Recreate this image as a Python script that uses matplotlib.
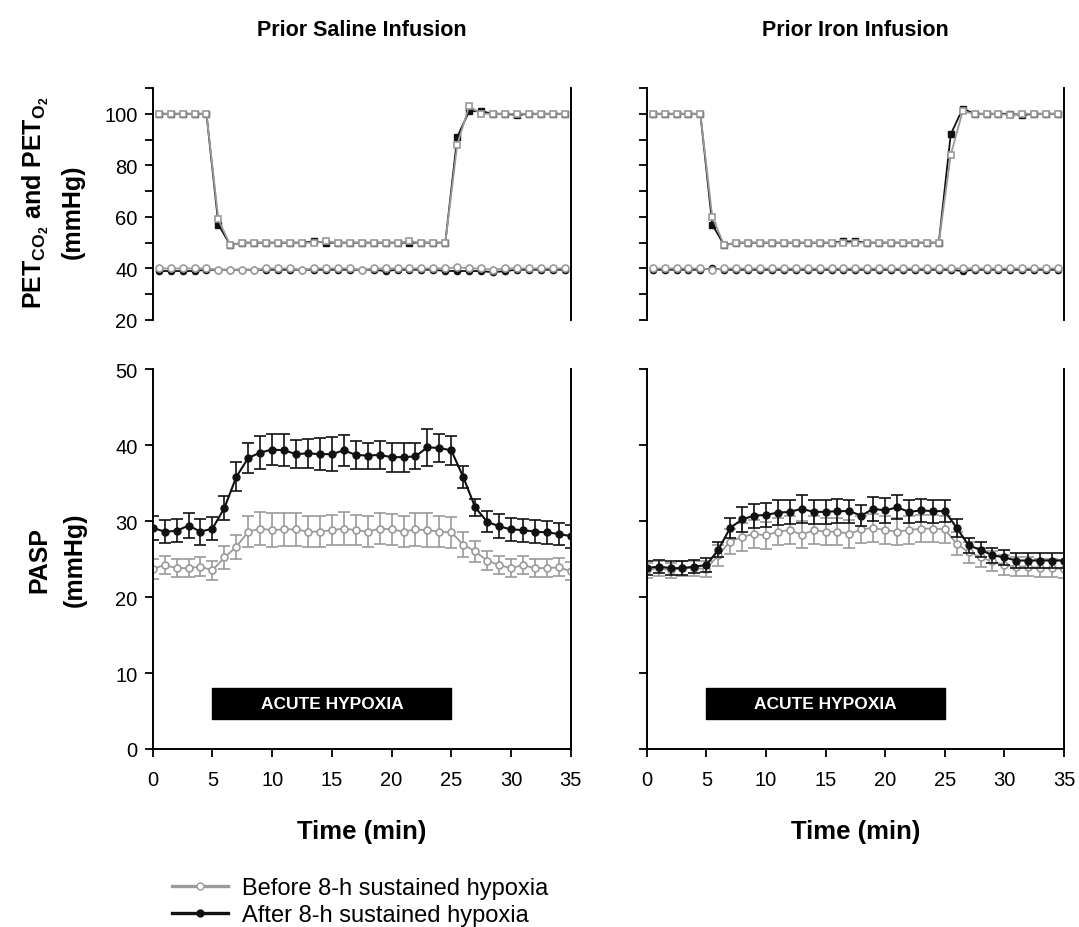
import numpy as np
import matplotlib
matplotlib.use("Agg")
import matplotlib.pyplot as plt
from matplotlib.lines import Line2D

plt.rcParams['font.family'] = ['Liberation Sans', 'DejaVu Sans']
plt.rcParams['mathtext.fontset'] = 'custom'
plt.rcParams['mathtext.bf'] = 'Liberation Sans:bold'
plt.rcParams['mathtext.rm'] = 'Liberation Sans'

# ---- data ----
panel_titles = ["Prior Saline Infusion", "Prior Iron Infusion"]

# end-tidal gases, one value per minute bin (plotted at bin centres)
t_gas = np.arange(35) + 0.5

saline_o2_before = [100, 100, 100, 100, 100, 59, 49, 50, 50, 50, 50, 50, 50, 50, 50.5, 50, 50,
                    50, 50, 50, 50, 50.5, 50, 50, 50, 88, 103, 100, 100, 100, 100, 100, 100, 100, 100]
saline_o2_after = [100, 100, 100, 100, 100, 57, 49, 50, 50, 50, 50, 50, 50, 50.5, 50, 50, 50,
                   50, 50, 50, 50, 50, 50, 50, 50, 91, 101, 101, 100, 100, 99.5, 100, 100, 100, 100]
saline_co2_before = [40, 40, 40, 40, 40, 39.5, 39.5, 39.5, 39.5, 40, 40, 40, 39.5, 40, 40, 40, 40,
                     39.5, 40, 40, 40, 40, 40, 40, 40, 40.5, 40, 40, 39.5, 40, 40, 40, 40, 40, 40]
saline_co2_after = [39, 39, 39, 39, 39.5, 39.5, 39.5, 39.5, 39.5, 39.5, 39.5, 39.5, 39.5, 39.5, 39.5,
                    39.5, 39.5, 39.5, 39.5, 39, 39.5, 39.5, 39.5, 39.5, 39, 39, 39, 39, 38.5, 39, 39.5,
                    39.5, 39.5, 39.5, 39.5]

iron_o2_before = [100, 100, 100, 100, 100, 60, 49, 50, 50, 50, 50, 50, 50, 50, 50, 50, 50,
                  50, 50, 50, 50, 50, 50, 50, 50, 84, 101, 100, 100, 100, 99.5, 100, 100, 100, 100]
iron_o2_after = [100, 100, 100, 100, 100, 57, 49, 50, 50, 50, 50, 50, 50, 50, 50, 50, 50.5,
                 50.5, 50, 50, 50, 50, 50, 50, 50, 92, 102, 100, 100, 100, 100, 99.5, 100, 100, 100]
iron_co2_before = [40, 40, 40, 40, 40, 39.5, 40, 40, 40, 40, 40, 40, 40, 40, 40, 40, 40,
                   40, 40, 40, 40, 40, 40, 40, 40, 40, 40, 40, 40, 40, 40, 40, 40, 40, 40]
iron_co2_after = [39.5, 39.5, 39.5, 39.5, 39.5, 40, 39.5, 39.5, 39.5, 39.5, 39.5, 39.5, 39.5, 39.5, 39.5,
                  39.5, 39.5, 39.5, 39.5, 39.5, 39.5, 39.5, 39.5, 39.5, 39.5, 39.5, 39, 39.5, 39.5, 39.5,
                  39.5, 39.5, 39.5, 39.5, 39.5]

# pulmonary artery systolic pressure, every minute
t_pasp = np.arange(36)

saline_pasp_before = [23.7, 24.2, 23.8, 23.8, 24.0, 23.5, 25.2, 26.6, 28.6, 29.0, 28.8, 28.9,
                      28.9, 28.6, 28.6, 28.8, 29.0, 28.8, 28.6, 29.0, 28.9, 28.6, 28.9, 28.8,
                      28.6, 28.5, 26.9, 26.0, 24.8, 24.2, 23.8, 24.2, 23.8, 23.8, 23.9, 23.4]
saline_pasp_before_err = [1.3, 1.2, 1.2, 1.2, 1.3, 1.3, 1.5, 1.6, 2.0, 2.2, 2.2, 2.2,
                          2.2, 2.0, 2.0, 2.0, 2.2, 2.0, 2.0, 2.0, 2.0, 2.0, 2.2, 2.2,
                          2.0, 2.0, 1.6, 1.4, 1.3, 1.2, 1.2, 1.2, 1.2, 1.2, 1.2, 1.2]
saline_pasp_after = [29.1, 28.6, 28.7, 29.4, 28.6, 29.0, 31.7, 35.8, 38.3, 39.0, 39.4, 39.3,
                     38.8, 38.9, 38.8, 38.8, 39.3, 38.7, 38.6, 38.7, 38.4, 38.4, 38.5, 39.7,
                     39.6, 39.3, 35.8, 31.8, 29.9, 29.3, 28.9, 28.8, 28.6, 28.5, 28.3, 28.0]
saline_pasp_after_err = [1.6, 1.5, 1.5, 1.6, 1.7, 1.5, 1.6, 1.9, 2.0, 2.2, 2.0, 2.1,
                         1.8, 1.9, 2.1, 2.2, 2.0, 1.8, 1.7, 1.8, 1.9, 1.9, 1.7, 2.4,
                         1.8, 1.9, 1.4, 1.1, 1.4, 1.6, 1.5, 1.5, 1.5, 1.5, 1.5, 1.5]

iron_pasp_before = [23.5, 23.8, 23.5, 23.8, 23.8, 23.7, 25.5, 27.3, 27.9, 28.3, 28.1, 28.6,
                    28.8, 28.2, 28.8, 28.6, 28.6, 28.3, 28.9, 29.1, 28.8, 28.6, 28.8, 29.0,
                    29.0, 28.9, 27.0, 25.9, 25.2, 24.7, 24.2, 24.0, 24.0, 23.8, 23.8, 23.7]
iron_pasp_before_err = [1.0, 1.0, 1.0, 1.0, 1.0, 1.1, 1.4, 1.7, 1.8, 1.8, 1.8, 1.8,
                        1.8, 1.8, 1.8, 1.8, 1.8, 1.8, 1.8, 1.8, 1.8, 1.8, 1.8, 1.8,
                        1.8, 1.8, 1.5, 1.4, 1.3, 1.3, 1.3, 1.3, 1.3, 1.2, 1.2, 1.2]
iron_pasp_after = [23.8, 24.0, 23.8, 23.8, 24.0, 24.2, 26.2, 29.1, 30.2, 30.7, 30.8, 31.1,
                   31.2, 31.6, 31.2, 31.2, 31.3, 31.3, 30.7, 31.6, 31.4, 31.8, 31.2, 31.4,
                   31.3, 31.3, 29.1, 26.8, 26.2, 25.5, 25.2, 24.8, 24.8, 24.8, 24.8, 24.8]
iron_pasp_after_err = [0.9, 0.9, 0.9, 0.9, 0.9, 0.9, 1.0, 1.3, 1.6, 1.6, 1.6, 1.6,
                       1.6, 1.8, 1.6, 1.6, 1.6, 1.5, 1.4, 1.6, 1.6, 1.6, 1.5, 1.5,
                       1.5, 1.4, 1.2, 1.0, 1.0, 1.0, 1.0, 1.0, 1.0, 1.0, 1.0, 1.0]

hypoxia_start, hypoxia_end = 5, 25
legend_labels = ["Before 8-h sustained hypoxia", "After 8-h sustained hypoxia"]

GREY = "#9a9a9a"
BLACK = "#111111"

W, H = 1079, 928
fig = plt.figure(figsize=(W / 100, H / 100), dpi=100)


def px_axes(x0, x1, y0, y1):
    return fig.add_axes([x0 / W, 1 - y1 / H, (x1 - x0) / W, (y1 - y0) / H])


def px_text(x, y, s, **kw):
    fig.text(x / W, 1 - y / H, s, **kw)


def style(ax):
    ax.spines['top'].set_visible(False)
    for side in ('left', 'right', 'bottom'):
        ax.spines[side].set_linewidth(1.4)
    ax.tick_params(direction='out', length=6, width=1.3, labelsize=14.5, pad=5)


cols = [(152.7, 570.7), (646.7, 1064.0)]
gas = [
    (saline_o2_before, saline_o2_after, saline_co2_before, saline_co2_after),
    (iron_o2_before, iron_o2_after, iron_co2_before, iron_co2_after),
]
pasp = [
    (saline_pasp_before, saline_pasp_before_err, saline_pasp_after, saline_pasp_after_err),
    (iron_pasp_before, iron_pasp_before_err, iron_pasp_after, iron_pasp_after_err),
]

for i, (x0, x1) in enumerate(cols):
    # top: end-tidal gases
    ax = px_axes(x0, x1, 89, 321)
    style(ax)
    ax.spines['bottom'].set_visible(False)
    o2b, o2a, co2b, co2a = gas[i]
    ax.plot(t_gas, co2a, color=BLACK, lw=1.3, marker='o', ms=4.5, mfc=BLACK, mec=BLACK, zorder=2)
    ax.plot(t_gas, co2b, color=GREY, lw=1.3, marker='o', ms=5, mfc='white', mec=GREY, mew=1.2, zorder=3)
    ax.plot(t_gas, o2a, color=BLACK, lw=1.3, marker='s', ms=4.5, mfc=BLACK, mec=BLACK, zorder=2)
    ax.plot(t_gas, o2b, color=GREY, lw=1.3, marker='s', ms=5, mfc='white', mec=GREY, mew=1.2, zorder=3)
    ax.set_xlim(0, 35)
    ax.set_ylim(20, 110)
    ax.set_xticks([])
    ax.set_yticks(np.arange(20, 111, 10))
    if i == 0:
        ax.set_yticklabels([str(v) if v % 20 == 0 and v <= 100 else '' for v in range(20, 111, 10)])
    else:
        ax.set_yticklabels([])
    px_text((x0 + x1) / 2, 30, panel_titles[i], fontsize=15.5, fontweight='bold',
            ha='center', va='center')

    # bottom: PASP
    ax = px_axes(x0, x1, 370, 750)
    style(ax)
    ax.tick_params(axis='x', pad=9)
    pb, pbe, pa, pae = pasp[i]
    ax.errorbar(t_pasp, pb, yerr=pbe, color=GREY, lw=1.3, elinewidth=1.2, capsize=4.5,
                capthick=1.2, marker='o', ms=5, mfc='white', mec=GREY, mew=1.2, zorder=2)
    ax.errorbar(t_pasp, pa, yerr=pae, color=BLACK, lw=1.5, elinewidth=1.2, capsize=4.5,
                capthick=1.2, marker='o', ms=5, mfc=BLACK, mec=BLACK, zorder=3)
    ax.set_xlim(0, 35)
    ax.set_ylim(0, 50)
    ax.set_xticks(np.arange(0, 36, 5))
    ax.set_yticks(np.arange(0, 51, 10))
    if i != 0:
        ax.set_yticklabels([])
    px_text((x0 + x1) / 2, 832, "Time (min)", fontsize=18.5, fontweight='bold',
            ha='center', va='center')
    ax.add_patch(plt.Rectangle((hypoxia_start, 4), hypoxia_end - hypoxia_start, 4,
                               facecolor='black', edgecolor='black', zorder=4))
    ax.text((hypoxia_start + hypoxia_end) / 2, 6, "ACUTE HYPOXIA", color='white',
            fontsize=12.5, fontweight='bold', ha='center', va='center', zorder=5)
    for s in ax.spines.values():
        s.set_clip_on(False)

# y-axis titles
px_text(36, 203, "PET$_{\\mathbf{CO_2}}$ and PET$_{\\mathbf{O_2}}$", fontsize=18,
        fontweight='bold', rotation=90, ha='center', va='center')
px_text(73, 212, "(mmHg)", fontsize=18, fontweight='bold', rotation=90, ha='center', va='center')
px_text(39, 560, "PASP", fontsize=18, fontweight='bold', rotation=90, ha='center', va='center')
px_text(75, 560, "(mmHg)", fontsize=18, fontweight='bold', rotation=90, ha='center', va='center')

handles = [
    Line2D([], [], color=GREY, lw=2.4, marker='o', ms=5, mfc='white', mec=GREY),
    Line2D([], [], color=BLACK, lw=2.4, marker='o', ms=5, mfc=BLACK, mec=BLACK),
]
fig.legend(handles, legend_labels, loc='upper left', bbox_to_anchor=(163 / W, 1 - 869 / H),
           frameon=False, fontsize=17, handlelength=2.35, handletextpad=0.6,
           labelspacing=0.2, borderaxespad=0)

fig.savefig("out.png", dpi=100)
